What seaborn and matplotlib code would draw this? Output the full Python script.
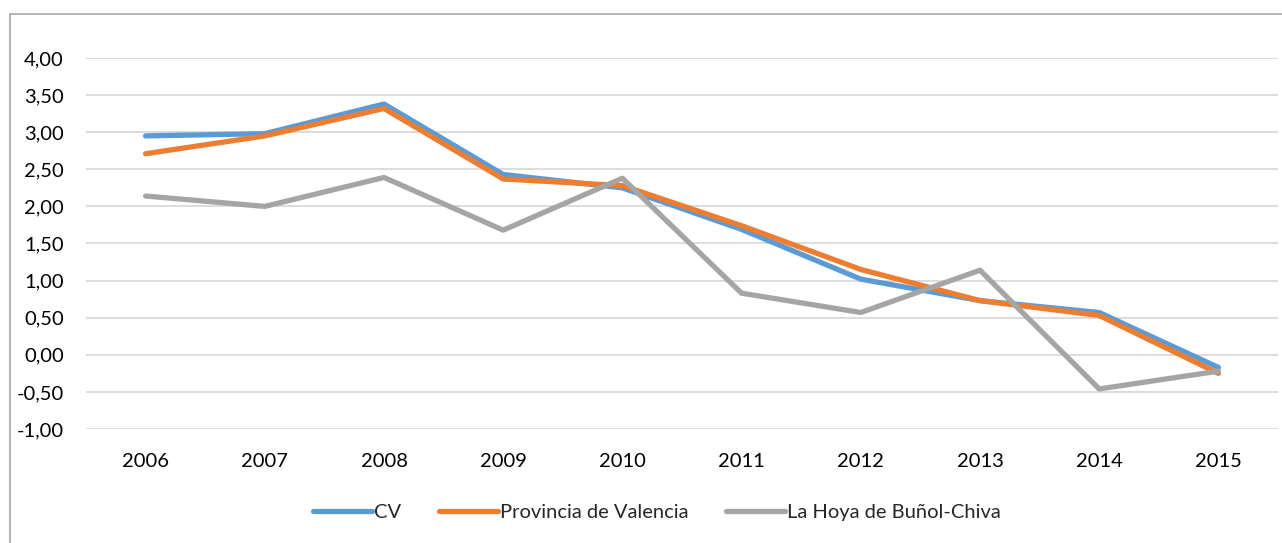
import matplotlib
matplotlib.use("Agg")
import matplotlib.pyplot as plt
import seaborn as sns
import pandas as pd
from matplotlib.patches import Rectangle
from matplotlib.ticker import FuncFormatter
from matplotlib.lines import Line2D

years = ["2006", "2007", "2008", "2009", "2010", "2011", "2012", "2013", "2014", "2015"]
cv = [2.95, 2.98, 3.38, 2.43, 2.25, 1.69, 1.02, 0.73, 0.57, -0.17]
provincia = [2.71, 2.95, 3.32, 2.37, 2.28, 1.74, 1.15, 0.73, 0.53, -0.25]
hoya = [2.14, 2.00, 2.39, 1.68, 2.38, 0.83, 0.57, 1.14, -0.46, -0.22]
series_names = ["CV", "Provincia de Valencia", "La Hoya de Buñol-Chiva"]
colors = ["#5B9BD5", "#ED7D31", "#A5A5A5"]

df = pd.DataFrame({"Año": years * 3,
                   "valor": cv + provincia + hoya,
                   "serie": [series_names[0]] * 10 + [series_names[1]] * 10 + [series_names[2]] * 10})

sns.set_style("white")
plt.rcParams['font.family'] = ['Lato', 'DejaVu Sans']

W, H = 1282, 543
fig = plt.figure(figsize=(W / 100, H / 100), dpi=100)
ax = fig.add_axes([86 / W, 1 - 429 / H, (1278 - 86) / W, (429 - 58) / H])

sns.lineplot(data=df, x="Año", y="valor", hue="serie", palette=colors,
             linewidth=3.8, ax=ax, sort=False, legend=False)

ax.set_xlim(-0.5, 9.5)
ax.set_ylim(-1.0, 4.0)
ax.set_yticks([-1.0, -0.5, 0, 0.5, 1.0, 1.5, 2.0, 2.5, 3.0, 3.5, 4.0])
ax.yaxis.set_major_formatter(FuncFormatter(lambda v, p: f"{v:.2f}".replace(".", ",")))
ax.grid(axis="y", color="#D9D9D9", linewidth=1.3)
ax.set_axisbelow(True)
for s in ax.spines.values():
    s.set_visible(False)
ax.tick_params(axis="both", length=0, labelsize=14.5, colors="black")
ax.tick_params(axis="y", pad=16)
ax.tick_params(axis="x", pad=17)
ax.set_xlabel("")
ax.set_ylabel("")

handles = [Line2D([0], [0], color=c, lw=3.8, solid_capstyle="round") for c in colors]
fig.legend(handles, series_names, loc="center", bbox_to_anchor=(657 / W, 1 - 512 / H),
           ncol=3, frameon=False, fontsize=14.5, handlelength=2.9, handletextpad=0.1,
           columnspacing=1.9)

fig.patches.append(Rectangle((10 / W, -0.05), 1.2, 1 - 14 / H + 0.05, transform=fig.transFigure,
                             fill=False, edgecolor="#A6A6A6", linewidth=1.2))

fig.savefig("out.png", dpi=100)
